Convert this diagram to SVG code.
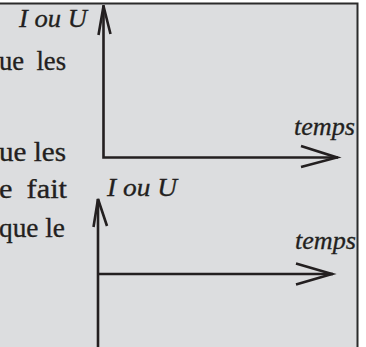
<svg xmlns="http://www.w3.org/2000/svg" width="366" height="347" viewBox="0 0 366 347">
<style>
.body{font-family:"Liberation Serif","Times New Roman",serif;font-size:28px;fill:#231f20;stroke:#231f20;stroke-width:0.35}
.lbl{font-family:"Liberation Serif","Times New Roman",serif;font-size:25px;font-style:italic;fill:#231f20;stroke:#231f20;stroke-width:0.3}
.ax{fill:none;stroke:#231f20;stroke-width:2.6;stroke-linecap:butt;stroke-linejoin:miter}
</style>
<rect x="0" y="0" width="366" height="347" fill="#ffffff"/>
<rect x="-5" y="3.5" width="362.5" height="350" fill="#dcdddf" stroke="#2b2b2b" stroke-width="2"/>
<g id="text">
<text class="body" x="-1" y="70" textLength="67" lengthAdjust="spacingAndGlyphs" word-spacing="6">ue les</text>
<text class="body" x="-1" y="161" textLength="67" lengthAdjust="spacingAndGlyphs">ue les</text>
<text class="body" x="-1" y="198" textLength="68" lengthAdjust="spacingAndGlyphs" word-spacing="6">e fait</text>
<text class="body" x="-1" y="237" textLength="66" lengthAdjust="spacingAndGlyphs">que le</text>
</g>
<g id="graph1">
<text class="lbl" x="19" y="26.5" textLength="68" lengthAdjust="spacingAndGlyphs">I ou U</text>
<text class="lbl" x="294" y="135" textLength="61" lengthAdjust="spacingAndGlyphs">temps</text>
</g>
<g id="graph2">
<text class="lbl" x="107" y="195.5" textLength="70" lengthAdjust="spacingAndGlyphs">I ou U</text>
<text class="lbl" x="295" y="249" textLength="61" lengthAdjust="spacingAndGlyphs">temps</text>
</g>
<g id="connectors">
<path class="ax" d="M103.5 5 V157.5 H338"/>
<path class="ax" d="M98.5 35 L103.5 6 L110.5 34"/>
<path class="ax" d="M301 146 L337 157.5 L301 167"/>
<path class="ax" d="M98 347 V199"/>
<path class="ax" d="M98 274 H333"/>
<path class="ax" d="M93.5 227 L98 199 L107 226"/>
<path class="ax" d="M296 263.5 L332 274 L296 284.5"/>
</g>
</svg>
